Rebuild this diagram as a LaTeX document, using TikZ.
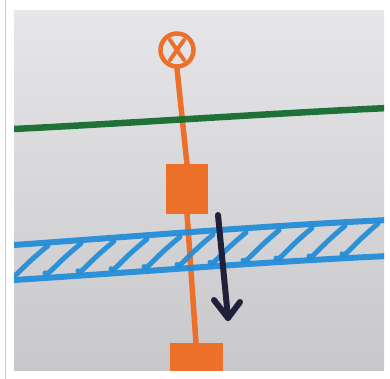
\documentclass[tikz,border=0pt]{standalone}
\usetikzlibrary{shadings}
\definecolor{paperbg}{RGB}{230,230,234}
\definecolor{paperdark}{RGB}{200,200,202}
\definecolor{pen orange}{RGB}{236,112,42}
\definecolor{pen green}{RGB}{22,108,48}
\definecolor{pen blue}{RGB}{32,140,216}
\definecolor{pen navy}{RGB}{32,32,58}
\tikzset{
  orangepen/.style={draw=pen orange, line width=5.5pt, line cap=round, line join=round},
  bluepen/.style={draw=pen blue, line width=6pt, line cap=round, line join=round},
  blockbox/.style={fill=pen orange, draw=pen orange, line width=2pt, inner sep=0pt},
}
\begin{document}
\begin{tikzpicture}[x=1pt,y=-1pt]
\useasboundingbox (0,0) rectangle (390,379);
\fill[white] (0,0) rectangle (390,379);
\draw[gray!40, line width=0.8pt] (5,0) -- (5,379);
% photo background
\shade[top color=paperbg, bottom color=paperdark] (14,11) rectangle (384,370);
\begin{scope}
\clip (14,11) rectangle (384,370);
% orange element
\node[circle, draw=pen orange, line width=4.5pt, minimum width=33pt, inner sep=0pt] (valve) at (177,50) {};
\draw[pen orange, line width=4pt, line cap=round] (170,40) -- (184,60);
\draw[pen orange, line width=4pt, line cap=round] (184,40) -- (170,60);
\node[blockbox, minimum width=40pt, minimum height=47pt] (blockA) at (187,189) {};
\node[blockbox, minimum width=51pt, minimum height=30pt] (blockB) at (196,359) {};
\draw[orangepen] (valve.south) -- (blockA.north);
\draw[orangepen] (blockA.south) -- (blockB.north);
% green line
\draw[pen green, line width=6.5pt, opacity=0.95] (14,129) .. controls (150,122) and (260,114) .. (388,108);
% blue band edges
\begin{scope}[opacity=0.92]
\draw[bluepen] (14,245) .. controls (140,236) and (260,226) .. (388,220);
\draw[bluepen] (14,280) .. controls (140,272) and (260,262) .. (388,256);
% hatching
\foreach \x in {14,47,...,370} {
  \draw[bluepen, line width=5pt]
    ({\x-2},{280-24*(\x-15)/373-5})
    .. controls ({\x},{280-24*(\x-15)/373}) and ({\x+6},{280-24*(\x-15)/373-12}) ..
    ({\x+34},{245-25*(\x+34-15)/373+3});
}
\end{scope}
% arrow
\coordinate (arrowStart) at (218,215);
\coordinate (arrowEnd) at (228,318);
\draw[pen navy, line width=6pt, line cap=round] (arrowStart) -- (arrowEnd);
\draw[pen navy, line width=6pt, line cap=round, line join=round] (214,300) -- (arrowEnd) -- (240,302);
\end{scope}
\end{tikzpicture}
\end{document}
